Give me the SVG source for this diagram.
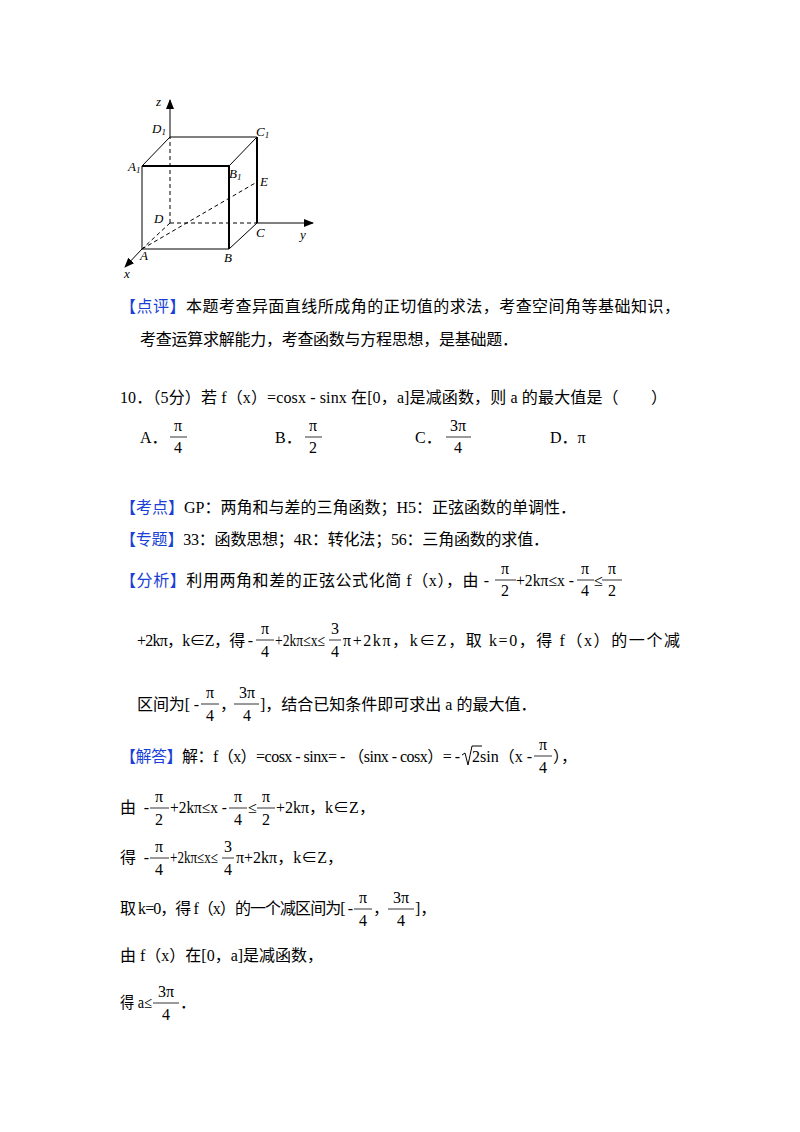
<svg xmlns="http://www.w3.org/2000/svg" width="800" height="1132" viewBox="0 0 800 1132">
<style>
text{font-family:"Liberation Serif","Noto Sans CJK SC",serif;font-size:16px;fill:#000}
.c{font-family:"Liberation Serif","Noto Sans CJK SC",serif;font-size:16px}
.b{fill:#1a3fd6;font-family:"Noto Sans CJK SC",sans-serif}
.f{text-anchor:middle;font-family:"Liberation Serif",serif;font-size:16px}
.l{font-family:"Liberation Serif",serif;font-style:italic;font-size:13px}
.e{stroke:#000;stroke-width:1;fill:none}
.k{stroke:#000;stroke-width:2;fill:none}
.d{stroke:#000;stroke-width:1;fill:none;stroke-dasharray:4,3}
.bar{stroke:#000;stroke-width:0.8}
</style>
<defs><marker id="ar" markerWidth="10" markerHeight="8" refX="9" refY="4" orient="auto" markerUnits="userSpaceOnUse"><path d="M0,0 L10,4 L0,8 z" fill="#000"/></marker></defs>
<rect width="800" height="1132" fill="#fff"/>
<g id="cube">
<line class="e" x1="170" y1="137" x2="170" y2="100" marker-end="url(#ar)"/>
<line class="d" x1="170" y1="223" x2="170" y2="137"/>
<line class="d" x1="170" y1="223" x2="257" y2="223"/>
<line class="e" x1="257" y1="223" x2="313" y2="223" marker-end="url(#ar)"/>
<line class="d" x1="170" y1="223" x2="142" y2="249"/>
<line class="e" x1="142" y1="249" x2="125" y2="267" marker-end="url(#ar)"/>
<line class="d" x1="142" y1="249" x2="257" y2="182"/>
<line class="e" x1="142" y1="166" x2="142" y2="249"/>
<line class="e" x1="142" y1="249" x2="229" y2="249"/>
<line class="k" x1="142" y1="166" x2="229" y2="166"/>
<line class="k" x1="229" y1="166" x2="229" y2="249"/>
<line class="k" x1="257" y1="137" x2="257" y2="223"/>
<line class="e" x1="142" y1="166" x2="170" y2="137"/>
<line class="e" x1="170" y1="137" x2="257" y2="137"/>
<line class="e" x1="229" y1="166" x2="257" y2="137"/>
<line class="e" x1="229" y1="249" x2="257" y2="223"/>
<text class="l" x="156" y="106">z</text>
<text class="l" x="152" y="133">D<tspan font-size="9" dy="2">1</tspan></text>
<text class="l" x="256" y="136">C<tspan font-size="9" dy="2">1</tspan></text>
<text class="l" x="128" y="171">A<tspan font-size="9" dy="2">1</tspan></text>
<text class="l" x="229" y="178">B<tspan font-size="9" dy="2">1</tspan></text>
<text class="l" x="260" y="186">E</text>
<text class="l" x="154" y="223">D</text>
<text class="l" x="256" y="237">C</text>
<text class="l" x="300" y="239">y</text>
<text class="l" x="140" y="260">A</text>
<text class="l" x="224" y="262">B</text>
<text class="l" x="124" y="278">x</text>
</g>
<g id="text">
<text class="c" x="120" y="312" textLength="560"><tspan class="b">【点评】</tspan>本题考查异面直线所成角的正切值的求法，考查空间角等基础知识，</text>
<text class="c" x="140" y="345" textLength="378">考查运算求解能力，考查函数与方程思想，是基础题．</text>
<text class="c" x="120" y="403" textLength="547">10．（5分）若 f（x）=cosx - sinx 在[0，a]是减函数，则 a 的最大值是（　　）</text>
<text class="c" x="140" y="443">A．</text><text class="f" x="178" y="431">π</text><line class="bar" x1="170" y1="437" x2="187" y2="437"/><text class="f" x="178" y="453">4</text>
<text class="c" x="275" y="443">B．</text><text class="f" x="313" y="431">π</text><line class="bar" x1="305" y1="437" x2="322" y2="437"/><text class="f" x="313" y="453">2</text>
<text class="c" x="415" y="443">C．</text><text class="f" x="458" y="431">3π</text><line class="bar" x1="446" y1="437" x2="471" y2="437"/><text class="f" x="458" y="453">4</text>
<text class="c" x="550" y="443">D．π</text>
<text class="c" x="120" y="513" textLength="456"><tspan class="b">【考点】</tspan>GP：两角和与差的三角函数；H5：正弦函数的单调性．</text>
<text class="c" x="120" y="545" textLength="429"><tspan class="b">【专题】</tspan>33：函数思想；4R：转化法；56：三角函数的求值．</text>
<text class="c" x="120" y="586" textLength="369"><tspan class="b">【分析】</tspan>利用两角和差的正弦公式化简 f（x），由 -</text>
<text class="f" x="505" y="574">π</text><line class="bar" x1="495" y1="580" x2="516" y2="580"/><text class="f" x="505" y="596">2</text>
<text x="516" y="586" textLength="58" lengthAdjust="spacingAndGlyphs">+2kπ≤x -</text>
<text class="f" x="585" y="574">π</text><line class="bar" x1="577" y1="580" x2="594" y2="580"/><text class="f" x="585" y="596">4</text>
<text x="594" y="586">≤</text>
<text class="f" x="612" y="574">π</text><line class="bar" x1="602" y1="580" x2="622" y2="580"/><text class="f" x="612" y="596">2</text>
<text class="c" x="137" y="646" textLength="116">+2kπ，k∈Z，得 -</text>
<text class="f" x="265" y="634">π</text><line class="bar" x1="256" y1="640" x2="274" y2="640"/><text class="f" x="265" y="657">4</text>
<text x="275" y="646" textLength="50" lengthAdjust="spacingAndGlyphs">+2kπ≤x≤</text>
<text class="f" x="335" y="634">3</text><line class="bar" x1="329" y1="640" x2="341" y2="640"/><text class="f" x="335" y="657">4</text>
<text class="c" x="343" y="646" textLength="337">π+2kπ，k∈Z，取 k=0，得 f（x）的一个减</text>
<text class="c" x="137" y="710" textLength="62">区间为[ -</text>
<text class="f" x="210" y="698">π</text><line class="bar" x1="201" y1="704" x2="219" y2="704"/><text class="f" x="210" y="721">4</text>
<text class="c" x="220" y="710">，</text>
<text class="f" x="247" y="698">3π</text><line class="bar" x1="234" y1="704" x2="259" y2="704"/><text class="f" x="247" y="721">4</text>
<text class="c" x="260" y="710">]，结合已知条件即可求出 a 的最大值．</text>
<text class="c" x="120" y="762" textLength="340"><tspan class="b">【解答】</tspan>解：f（x）=cosx - sinx= - （sinx - cosx）= -</text>
<path d="M462,755 L465,753 L468,765 L472,746 L482,746" class="e"/>
<text x="472" y="762" textLength="60">2sin（x -</text>
<text class="f" x="543" y="750">π</text><line class="bar" x1="534" y1="756" x2="552" y2="756"/><text class="f" x="543" y="773">4</text>
<text class="c" x="553" y="762">），</text>
<text class="c" x="120" y="813" textLength="29">由 -</text>
<text class="f" x="159" y="802">π</text><line class="bar" x1="150" y1="808" x2="169" y2="808"/><text class="f" x="159" y="825">2</text>
<text x="170" y="813" textLength="57" lengthAdjust="spacingAndGlyphs">+2kπ≤x -</text>
<text class="f" x="238" y="802">π</text><line class="bar" x1="229" y1="808" x2="247" y2="808"/><text class="f" x="238" y="825">4</text>
<text x="248" y="813">≤</text>
<text class="f" x="266" y="802">π</text><line class="bar" x1="257" y1="808" x2="275" y2="808"/><text class="f" x="266" y="825">2</text>
<text class="c" x="276" y="813">+2kπ，k∈Z，</text>
<text class="c" x="120" y="863" textLength="29">得 -</text>
<text class="f" x="159" y="852">π</text><line class="bar" x1="150" y1="858" x2="169" y2="858"/><text class="f" x="159" y="875">4</text>
<text x="170" y="863" textLength="48" lengthAdjust="spacingAndGlyphs">+2kπ≤x≤</text>
<text class="f" x="228" y="852">3</text><line class="bar" x1="222" y1="858" x2="234" y2="858"/><text class="f" x="228" y="875">4</text>
<text class="c" x="236" y="863">π+2kπ，k∈Z，</text>
<text class="c" x="120" y="914" textLength="233">取 k=0，得 f（x）的一个减区间为[ -</text>
<text class="f" x="363" y="903">π</text><line class="bar" x1="354" y1="909" x2="372" y2="909"/><text class="f" x="363" y="926">4</text>
<text class="c" x="373" y="914">，</text>
<text class="f" x="401" y="903">3π</text><line class="bar" x1="388" y1="909" x2="414" y2="909"/><text class="f" x="401" y="926">4</text>
<text class="c" x="415" y="914">]，</text>
<text class="c" x="120" y="961">由 f（x）在[0，a]是减函数，</text>
<text class="c" x="120" y="1008" textLength="32" lengthAdjust="spacingAndGlyphs">得 a≤</text>
<text class="f" x="166" y="997">3π</text><line class="bar" x1="153" y1="1003" x2="179" y2="1003"/><text class="f" x="166" y="1020">4</text>
<text class="c" x="180" y="1008">．</text>
</g>
</svg>
